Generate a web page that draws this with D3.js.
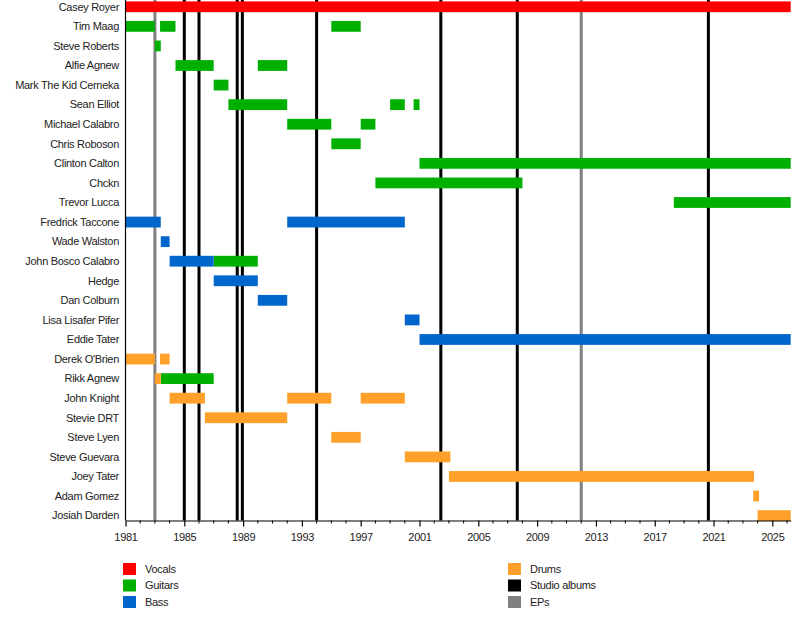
<!DOCTYPE html>
<html><head><meta charset="utf-8">
<script src="https://cdn.jsdelivr.net/npm/d3@7"></script>
<style>body{margin:0;background:#fff}svg{display:block;font-family:"Liberation Sans",Arial,sans-serif}svg text{letter-spacing:-0.3px}</style>
</head><body><svg id="c" width="800" height="620"></svg>
<script>
const members = ["Casey Royer","Tim Maag","Steve Roberts","Alfie Agnew","Mark The Kid Cerneka","Sean Elliot","Michael Calabro","Chris Roboson","Clinton Calton","Chckn","Trevor Lucca","Fredrick Taccone","Wade Walston","John Bosco Calabro","Hedge","Dan Colburn","Lisa Lisafer Pifer","Eddie Tater","Derek O'Brien","Rikk Agnew","John Knight","Stevie DRT","Steve Lyen","Steve Guevara","Joey Tater","Adam Gomez","Josiah Darden"];
const START = 1981, END = 2026.25;
const vocalSpans = [["Casey Royer",1981,END]];
const guitarSpans = [
  ["Tim Maag",1981,1983],["Tim Maag",1983.35,1984.4],["Tim Maag",1995,1997],
  ["Steve Roberts",1983,1983.4],
  ["Alfie Agnew",1984.4,1987],["Alfie Agnew",1990,1992],
  ["Mark The Kid Cerneka",1987,1988],
  ["Sean Elliot",1988,1992],["Sean Elliot",1999,2000],["Sean Elliot",2000.6,2001],
  ["Michael Calabro",1992,1995],["Michael Calabro",1997,1998],
  ["Chris Roboson",1995,1997],
  ["Clinton Calton",2001,END],
  ["Chckn",1998,2008],
  ["Trevor Lucca",2018.3,END],
  ["John Bosco Calabro",1987,1990],
  ["Rikk Agnew",1983.4,1987]
];
const bassSpans = [
  ["Fredrick Taccone",1981,1983.4],["Fredrick Taccone",1992,2000],
  ["Wade Walston",1983.4,1984],
  ["John Bosco Calabro",1984,1987],
  ["Hedge",1987,1990],
  ["Dan Colburn",1990,1992],
  ["Lisa Lisafer Pifer",2000,2001],
  ["Eddie Tater",2001,END]
];
const drumSpans = [
  ["Derek O'Brien",1981,1983],["Derek O'Brien",1983.35,1984],
  ["Rikk Agnew",1983,1983.4],
  ["John Knight",1984,1986.4],["John Knight",1992,1995],["John Knight",1997,2000],
  ["Stevie DRT",1986.4,1992],
  ["Steve Lyen",1995,1997],
  ["Steve Guevara",2000,2003.1],
  ["Joey Tater",2003,2023.75],
  ["Adam Gomez",2023.7,2024.1],
  ["Josiah Darden",2024,END]
];
const studioAlbums = [1985,1986,1988.6,1988.95,1994,2002.45,2007.65,2020.65];
const eps = [1983,2012];
const tickYears = d3.range(1981,2026,4);
const minorYears = d3.range(1981,2027,1);
const legendLeft = [["Vocals","#ff0000"],["Guitars","#00b000"],["Bass","#0066cc"]];
const legendRight = [["Drums","#ffa02a"],["Studio albums","#000000"],["EPs","#808080"]];

const svg = d3.select("#c");
const x = d3.scaleLinear().domain([START,END]).range([125.5,790.7]);
const y = d3.scalePoint().domain(members).range([6.8,515.6]);
const axisY = 520.5, barH = 10.8;

// lines (back layer)
svg.append("g").selectAll("line").data(eps).join("line")
  .attr("x1",d=>x(d)).attr("x2",d=>x(d)).attr("y1",0).attr("y2",axisY)
  .attr("stroke","#808080").attr("stroke-width",3);
svg.append("g").selectAll("line").data(studioAlbums).join("line")
  .attr("x1",d=>x(d)).attr("x2",d=>x(d)).attr("y1",0).attr("y2",axisY)
  .attr("stroke","#000").attr("stroke-width",3);

function bars(data,color){
  svg.append("g").selectAll("rect").data(data).join("rect")
    .attr("x",d=>x(d[1])).attr("width",d=>x(d[2])-x(d[1]))
    .attr("y",d=>y(d[0])-barH/2).attr("height",barH)
    .attr("fill",color);
}
bars(vocalSpans,"#ff0000");
bars(guitarSpans,"#00b000");
bars(bassSpans,"#0066cc");
bars(drumSpans,"#ffa02a");

// left axis line
svg.append("line").attr("x1",125.5).attr("x2",125.5).attr("y1",0).attr("y2",axisY)
  .attr("stroke","#000").attr("stroke-width",1.2);

// member labels
svg.append("g").selectAll("text").data(members).join("text")
  .attr("x",119).attr("y",d=>y(d)).attr("dy","0.35em")
  .attr("text-anchor","end").attr("font-size",11).attr("fill","#222").text(d=>d);

// bottom axis
const ax = svg.append("g").attr("transform",`translate(0,${axisY})`)
  .call(d3.axisBottom(x).tickValues(tickYears).tickFormat(d3.format("d")).tickSize(6).tickSizeOuter(0));
ax.select(".domain").attr("stroke-width",1.2);
ax.selectAll("text").attr("font-size",11).attr("fill","#222").attr("dy","1.05em")
  .attr("font-family","'Liberation Sans',Arial,sans-serif");
ax.selectAll(".tick line").attr("stroke-width",1.2);
svg.append("g").selectAll("line").data(minorYears.filter(d=>!tickYears.includes(d))).join("line")
  .attr("x1",d=>x(d)).attr("x2",d=>x(d)).attr("y1",axisY).attr("y2",axisY+3)
  .attr("stroke","#000").attr("stroke-width",1);

// legend
function legend(items,lx,tx){
  const g = svg.append("g");
  items.forEach((it,i)=>{
    const yy = 563 + i*16.5;
    g.append("rect").attr("x",lx).attr("y",yy).attr("width",13).attr("height",12).attr("fill",it[1]);
    g.append("text").attr("x",tx).attr("y",yy+6).attr("dy","0.35em").attr("font-size",11).attr("fill","#222").text(it[0]);
  });
}
legend(legendLeft,123,145);
legend(legendRight,508,530);
</script></body></html>
